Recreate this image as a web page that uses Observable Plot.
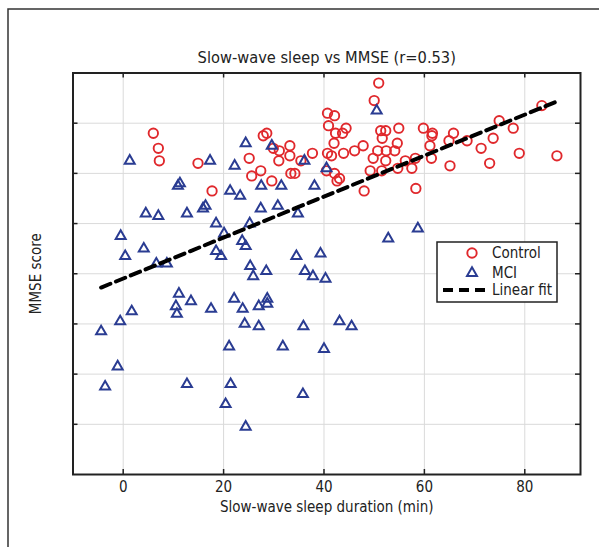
<!DOCTYPE html>
<html>
<head>
<meta charset="utf-8">
<script src="https://cdn.jsdelivr.net/npm/d3@7"></script>
<script src="https://cdn.jsdelivr.net/npm/@observablehq/plot@0.6"></script>
<style>
  html, body { margin: 0; padding: 0; background: white; }
  svg { display: block; }
</style>
</head>
<body>
<div id="chart"></div>
<script>
const titleText = "Slow-wave sleep vs MMSE (r=0.53)";
const xLabel = "Slow-wave sleep duration (min)";
const yLabel = "MMSE score";
const xTicks = [0, 20, 40, 60, 80];
const yTicks = [16, 18, 20, 22, 24, 26, 28];
const legendLabels = ["Control", "MCI", "Linear fit"];

const controlX = [6.0, 7.0, 7.2, 14.9, 17.7, 25.1, 25.6, 27.4, 27.9, 28.6, 29.6, 29.9, 31.1, 31.0, 33.2, 33.2, 33.4, 34.2, 35.4, 37.7,
  40.7, 42.1, 40.9, 42.3, 43.7, 44.4, 42.0, 40.7, 41.5, 43.9, 46.1, 47.8, 40.5, 42.1, 43.1, 42.6, 48.0, 50.9, 50.0, 51.3,
  52.3, 54.9, 51.6, 54.6, 50.7, 52.4, 54.1, 49.8, 52.3, 56.2, 58.2, 49.2, 51.5, 54.7, 57.5, 58.3, 59.8, 61.6, 61.5, 61.1,
  61.4, 65.1, 64.9, 65.8, 68.5, 71.3, 73.0, 73.7, 74.9, 77.7, 78.9, 83.4, 86.4];
const controlY = [27.6, 27.0, 26.5, 26.4, 25.3, 26.6, 25.9, 26.1, 27.5, 27.6, 25.7, 27.0, 26.9, 26.5, 27.1, 26.7, 26.0, 26.0, 26.5, 26.8,
  28.4, 28.3, 27.9, 27.6, 27.6, 27.8, 27.2, 26.8, 26.7, 26.8, 26.9, 27.1, 26.1, 26.0, 25.8, 25.7, 25.3, 29.6, 28.9, 27.7,
  27.7, 27.8, 27.4, 27.2, 26.9, 26.9, 26.9, 26.6, 26.5, 26.5, 26.6, 26.1, 26.1, 26.2, 26.2, 25.4, 27.8, 27.6, 27.5, 27.1,
  26.6, 26.3, 27.3, 27.6, 27.3, 27.0, 26.4, 27.4, 28.1, 27.8, 26.8, 28.7, 26.7];

const mciX = [1.3, -0.5, 0.4, 4.1, 4.5, 7.0, 6.6, 8.7, 10.9, 11.3, 12.7, 15.9, 16.4, 17.3, 18.5, 20.1, 18.5, 19.5, 21.3, 23.3,
  22.2, 24.4, 25.2, 23.7, 24.4, 25.3, 28.5, 27.4, 27.5, 30.8, 31.5, 29.6, 34.5, 34.8, 36.1, 38.1, 39.3, 36.2, 37.8, 40.3,
  40.5, 50.5, 52.8, 58.7, -4.4, -3.6, -1.1, -0.6, 1.7, 11.1, 10.5, 10.7, 13.5, 12.7, 17.5, 21.1, 21.4, 20.4, 24.4, 22.1,
  23.8, 24.2, 27.0, 27.0, 28.7, 28.7, 25.9, 31.8, 35.9, 35.8, 40.0, 43.1, 45.5];
const mciY = [26.5, 23.5, 22.7, 23.0, 24.4, 24.3, 22.4, 22.4, 25.5, 25.6, 24.4, 24.6, 24.7, 26.5, 24.0, 23.6, 22.9, 22.7, 25.3, 25.1,
  26.3, 27.2, 24.0, 23.3, 23.1, 22.3, 22.1, 24.6, 25.5, 24.7, 25.5, 27.1, 22.7, 24.4, 26.5, 25.5, 22.8, 22.1, 21.9, 21.8,
  26.2, 28.5, 23.4, 23.8, 19.7, 17.5, 18.3, 20.1, 20.5, 21.2, 20.7, 20.4, 20.9, 17.6, 20.6, 19.1, 17.6, 16.8, 15.9, 21.0,
  20.6, 20.0, 20.7, 19.9, 21.0, 20.8, 21.9, 19.1, 19.9, 17.2, 19.0, 20.1, 19.9];

const fitX = [-4.4, 86.6];
const fitY = [21.45, 28.88];

const control = controlX.map((x, i) => ({x, y: controlY[i]}));
const mci = mciX.map((x, i) => ({x, y: mciY[i]}));
const fit = fitX.map((x, i) => ({x, y: fitY[i]}));

const RED = "#e0282c";
const BLUE = "#2a3c92";
const INK = "#222";
const W = 599, H = 547;
const mL = 72.5, mR = 19, mT = 72.5, mB = 73;
const fw = W - mL - mR, fh = H - mT - mB;
const FONT = "'Liberation Sans Narrow', 'DejaVu Sans Condensed', 'Roboto', sans-serif";

const chart = Plot.plot({
  width: W, height: H,
  marginLeft: mL, marginRight: mR, marginTop: mT, marginBottom: mB,
  x: {domain: [-10, 91.1], label: null},
  y: {domain: [14, 30], axis: null},
  style: {fontFamily: FONT, background: "white", color: INK},
  marks: [
    Plot.gridX(xTicks, {stroke: "#dadada", strokeOpacity: 1}),
    Plot.gridY(yTicks, {stroke: "#dadada", strokeOpacity: 1}),
    Plot.dot(control, {x: "x", y: "y", r: 4.7, stroke: RED, strokeWidth: 1.9, fill: "none"}),
    Plot.dot(mci, {x: "x", y: "y", symbol: "triangle", r: 3.7, stroke: BLUE, strokeWidth: 2, fill: "none"}),
    Plot.line(fit, {x: "x", y: "y", stroke: "black", strokeWidth: 4, strokeDasharray: "10,6"}),
    Plot.ruleX(xTicks, {stroke: INK, strokeWidth: 1.5, insetTop: fh - 5}),
    Plot.ruleX(xTicks, {stroke: INK, strokeWidth: 1.5, insetBottom: fh - 5}),
    Plot.ruleY(yTicks, {stroke: INK, strokeWidth: 1.5, insetRight: fw - 5}),
    Plot.ruleY(yTicks, {stroke: INK, strokeWidth: 1.5, insetLeft: fw - 5}),
    Plot.frame({stroke: INK, strokeWidth: 2}),
    Plot.axisX(xTicks, {tickSize: 0, tickPadding: 7, fontSize: 15, label: null, fill: INK}),
    Plot.text([titleText], {text: d => d, frameAnchor: "top", dy: -15.5, lineAnchor: "middle", textAnchor: "middle", fontSize: 16.3, fill: INK}),
    Plot.text([xLabel], {text: d => d, frameAnchor: "bottom", dy: 33, lineAnchor: "middle", textAnchor: "middle", fontSize: 15, fill: INK}),
    Plot.text([yLabel], {text: d => d, frameAnchor: "left", dx: -37, rotate: -90, lineAnchor: "middle", textAnchor: "middle", fontSize: 15, fill: INK})
  ]
});

document.getElementById("chart").appendChild(chart);

// outer panel border
const svg = d3.select(chart);
svg.append("path").attr("d", "M8,547V9H599").attr("fill", "none").attr("stroke", "#333").attr("stroke-width", 1.5);

// legend
const lg = svg.append("g").attr("font-family", FONT).attr("font-size", 15).attr("fill", INK).attr("text-anchor", "start");
lg.append("rect").attr("x", 437).attr("y", 242).attr("width", 120).attr("height", 60)
  .attr("fill", "white").attr("stroke", INK).attr("stroke-width", 1.5);
lg.append("circle").attr("cx", 472).attr("cy", 253).attr("r", 4.7).attr("fill", "none").attr("stroke", RED).attr("stroke-width", 1.9);
lg.append("path").attr("d", d3.symbol(d3.symbolTriangle, Math.PI * 3.7 * 3.7)()).attr("transform", "translate(472,273)")
  .attr("fill", "none").attr("stroke", BLUE).attr("stroke-width", 2);
lg.append("line").attr("x1", 443).attr("x2", 487).attr("y1", 290).attr("y2", 290)
  .attr("stroke", "black").attr("stroke-width", 4).attr("stroke-dasharray", "10,6");
legendLabels.forEach((t, i) => {
  lg.append("text").attr("x", 492).attr("y", [253, 273, 290][i]).attr("dy", "0.35em").text(t);
});
</script>
</body>
</html>
